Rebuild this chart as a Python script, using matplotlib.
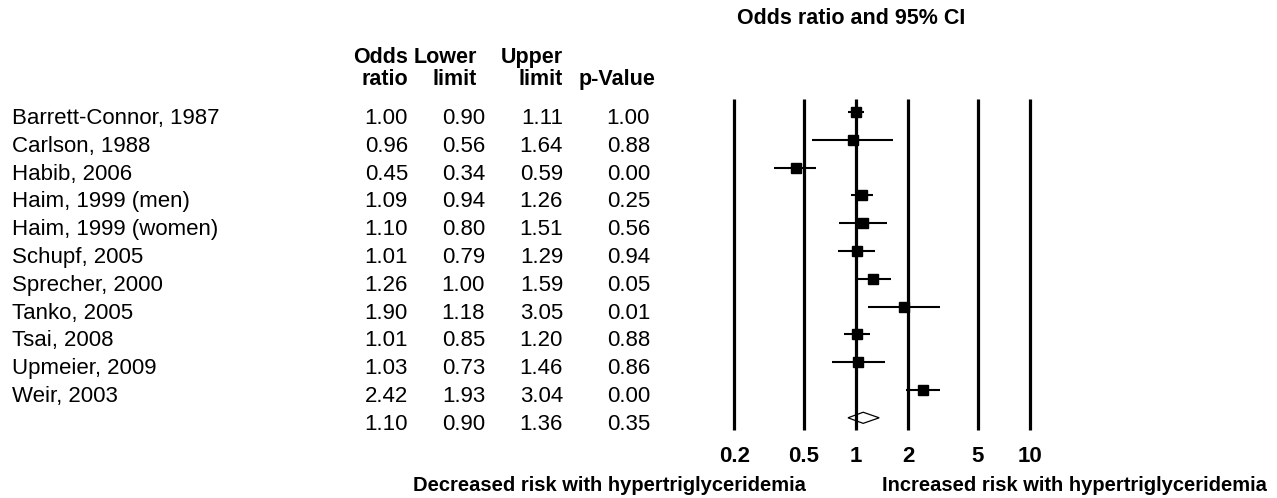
"""Forest plot: odds ratio of hypertriglyceridemia, per study."""

import matplotlib
matplotlib.use('Agg')
import matplotlib.pyplot as plt
from matplotlib.transforms import blended_transform_factory

plt.rcParams.update({
    'font.family': ['Liberation Sans', 'DejaVu Sans'],
    'figure.dpi': 100,
})

studies = ['Barrett-Connor, 1987', 'Carlson, 1988', 'Habib, 2006',
           'Haim, 1999 (men)', 'Haim, 1999 (women)', 'Schupf, 2005',
           'Sprecher, 2000', 'Tanko, 2005', 'Tsai, 2008', 'Upmeier, 2009',
           'Weir, 2003']
odds = [1.00, 0.96, 0.45, 1.09, 1.10, 1.01, 1.26, 1.90, 1.01, 1.03, 2.42]
lower = [0.90, 0.56, 0.34, 0.94, 0.80, 0.79, 1.00, 1.18, 0.85, 0.73, 1.93]
upper = [1.11, 1.64, 0.59, 1.26, 1.51, 1.29, 1.59, 3.05, 1.20, 1.46, 3.04]
pvals = [1.00, 0.88, 0.00, 0.25, 0.56, 0.94, 0.05, 0.01, 0.88, 0.86, 0.00]

pooled = (1.10, 0.90, 1.36, 0.35)  # OR, lower, upper, p

ref_lines = [0.2, 0.5, 1, 2, 5, 10]
tick_labels = ['0.2', '0.5', '1', '2', '5', '10']

W, H = 1277, 498
fig = plt.figure(figsize=(W / 100, H / 100))

# axes placed so that the log scale matches the reference layout
ax_top, ax_bot = 90, 440
ax = fig.add_axes([712.6 / W, 1 - ax_bot / H, 348 / W, (ax_bot - ax_top) / H])
ax.set_xscale('log')
ax.set_xlim(0.15, 15)
ax.set_ylim((ax_bot - 112) / 27.8, (ax_top - 112) / 27.8)
ax.axis('off')

n = len(studies)
rows = list(range(n))
pooled_row = n

ax.vlines(ref_lines, -0.47, 11.44, color='black', lw=2.3, zorder=2)

for r, o, lo, hi in zip(rows, odds, lower, upper):
    ax.plot([lo, hi], [r, r], color='black', lw=1.5, zorder=3,
            solid_capstyle='butt')
    ax.plot(o, r, 's', color='black', ms=7.8, zorder=4)

# summary diamond
o, lo, hi, _ = pooled
h = 0.2
ax.fill([lo, o, hi, o], [pooled_row, pooled_row - h, pooled_row, pooled_row + h],
        facecolor='white', edgecolor='black', lw=0.9, zorder=1)

# text table
tr = blended_transform_factory(fig.transFigure, ax.transData)
fs = 16
off = 0.43
for r, name in enumerate(studies):
    fig.text(12 / W, r + off, name, transform=tr, fontsize=fs, va='baseline')

table_rows = list(zip(odds, lower, upper, pvals)) + [pooled]
col_right = [408, 485, 563, 650]
for r, vals in enumerate(table_rows):
    for x, v in zip(col_right, vals):
        fig.text(x / W, r + off, f'{v:.2f}', transform=tr, fontsize=fs,
                 va='baseline', ha='right')

headers = [('Odds', 'ratio', 408), ('Lower', 'limit', 477),
           ('Upper', 'limit', 563), ('', 'p-Value', 655)]
for top, bot, x in headers:
    fig.text(x / W, 1 - 63 / H, top, fontsize=15.5, fontweight='bold',
             ha='right', va='baseline')
    fig.text(x / W, 1 - 85 / H, bot, fontsize=15.5, fontweight='bold',
             ha='right', va='baseline')

fig.text(851 / W, 1 - 19 / H, 'Odds ratio and 95% CI', fontsize=15.5,
         fontweight='bold', ha='center', va='center')

ttr = blended_transform_factory(ax.transData, fig.transFigure)
for v, lab in zip(ref_lines, tick_labels):
    fig.text(v, 1 - 456 / H, lab, transform=ttr, fontsize=16,
             fontweight='bold', ha='center', va='center')

fig.text(609 / W, 1 - 485 / H, 'Decreased risk with hypertriglyceridemia',
         fontsize=14.5, fontweight='bold', ha='center', va='center')
fig.text(1074 / W, 1 - 485 / H, 'Increased risk with hypertriglyceridemia',
         fontsize=14.5, fontweight='bold', ha='center', va='center')

fig.savefig('out.png', dpi=100)
plt.close()
